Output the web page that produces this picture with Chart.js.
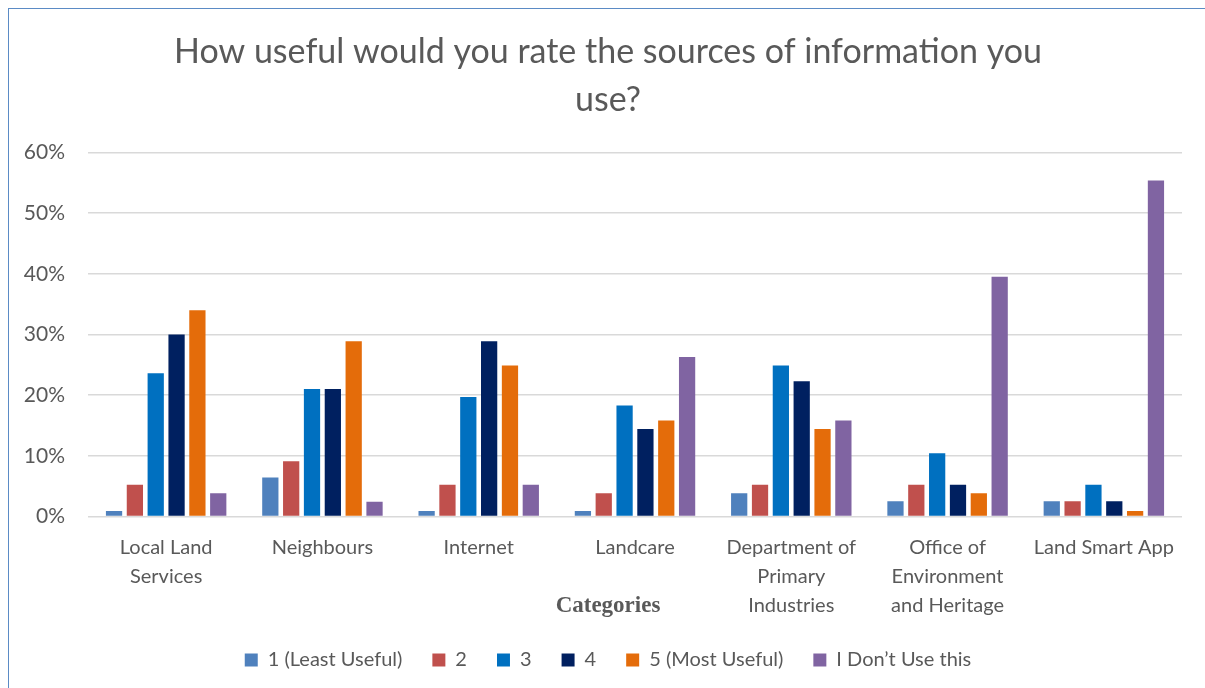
<!DOCTYPE html>
<html>
<head>
<meta charset="utf-8">
<script src="https://cdn.jsdelivr.net/npm/chart.js@4/dist/chart.umd.min.js"></script>
<style>
  body { margin: 0; background: #fff; }
  #wrap { position: relative; width: 1205px; height: 688px; }
  #frame { position: absolute; left: 8px; top: 8px; width: 1210px; height: 700px; border: 1px solid #5b8bc5; box-sizing: border-box; }
  canvas { position: absolute; left: 0; top: 0; }
</style>
</head>
<body>
<div id="wrap">
  <div id="frame"></div>
  <canvas id="chart" width="1205" height="688"></canvas>
</div>
<script>
// data (percent)
let categories = [
    ["Local Land", "Services"],
    "Neighbours",
    "Internet",
    "Landcare",
    ["Department of", "Primary", "Industries"],
    ["Office of", "Environment", "and Heritage"],
    "Land Smart App"
];
let seriesNames = ["1 (Least Useful)", "2", "3", "4", "5 (Most Useful)", "I Don\u2019t Use this"];
let leastUseful = [0.9, 6.4, 0.9, 0.9, 3.8, 2.5, 2.5];
let two        = [5.2, 9.1, 5.2, 3.8, 5.2, 5.2, 2.5];
let three      = [23.6, 21.0, 19.7, 18.3, 24.9, 10.4, 5.2];
let four       = [30.0, 21.0, 28.9, 14.4, 22.3, 5.2, 2.5];
let mostUseful = [34.0, 28.9, 24.9, 15.8, 14.4, 3.8, 0.9];
let dontUse    = [3.8, 2.4, 5.2, 26.3, 15.8, 39.5, 55.4];
let colors = ["#4f81bd", "#c0504d", "#0070c0", "#002060", "#e46c0a", "#8064a2"];
let yTicks = [0, 10, 20, 30, 40, 50, 60];

let values = [leastUseful, two, three, four, mostUseful, dontUse];
let datasets = [];
for (let i = 0; i < values.length; i++) {
    datasets.push({
        label: seriesNames[i],
        data: values[i],
        backgroundColor: colors[i],
        categoryPercentage: 0.8,
        barPercentage: 0.78
    });
}

const font = "'Liberation Sans Narrow', Lato, sans-serif";
const grey = "#595959";

// let the y labels spill left of the padded area, and centre the x title on the whole chart
const widenY = {
    id: 'widenY',
    afterLayout(chart) {
        chart.scales.y.left = 0;
        chart.scales.x.left = 34;
    }
};

new Chart(document.getElementById("chart"), {
    type: 'bar',
    data: { labels: categories, datasets: datasets },
    plugins: [widenY],
    options: {
        responsive: false,
        animation: false,
        layout: { padding: { left: 34, right: 23, top: 22, bottom: 8 } },
        plugins: {
            title: {
                display: true,
                text: ["How useful would you rate the sources of information you", "use?"],
                color: grey,
                font: { family: font, size: 34, weight: 'normal', lineHeight: 1.42 },
                padding: { top: 6, bottom: 28 }
            },
            legend: {
                position: 'bottom',
                labels: {
                    color: grey,
                    font: { family: font, size: 20 },
                    boxWidth: 13,
                    boxHeight: 13,
                    padding: 30
                }
            },
            tooltip: { enabled: false }
        },
        scales: {
            x: {
                grid: { display: false },
                border: { display: false },
                ticks: {
                    color: grey,
                    font: { family: font, size: 20, lineHeight: 1.45 },
                    maxRotation: 0,
                    autoSkip: false,
                    padding: 9
                },
                title: {
                    display: true,
                    text: "Categories",
                    color: grey,
                    font: { family: "'Liberation Serif', 'DejaVu Serif', serif", size: 23, weight: 'bold' },
                    padding: { top: -37, bottom: 0 }
                }
            },
            y: {
                min: 0,
                max: 60,
                afterBuildTicks: function (scale) {
                    scale.ticks = yTicks.map(v => ({ value: v }));
                },
                afterFit: function (scale) {
                    scale.width = 54;
                },
                grid: { color: "#d9d9d9", lineWidth: 1.5, drawTicks: false },
                border: { display: false },
                ticks: {
                    color: grey,
                    font: { family: font, size: 21 },
                    padding: 23,
                    callback: v => v + "%"
                }
            }
        }
    }
});
</script>
</body>
</html>
